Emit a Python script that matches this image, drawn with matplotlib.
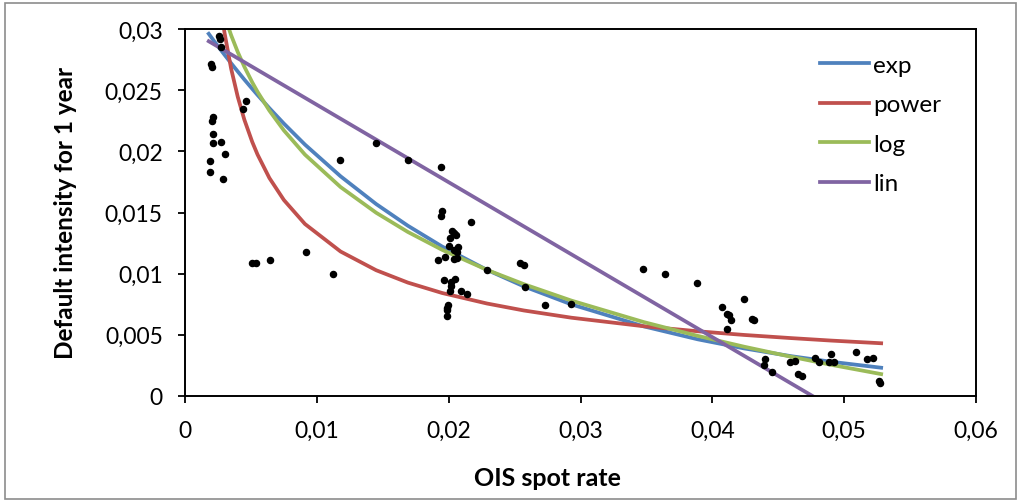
import matplotlib
matplotlib.use("Agg")
import matplotlib.pyplot as plt
from matplotlib.patches import Rectangle

plt.rcParams["font.family"] = ["Lato", "DejaVu Sans"]

# observed points: OIS spot rate vs 1y default intensity
ois_rate = [
    0.00260, 0.00265, 0.00273, 0.00195, 0.00205, 0.00462, 0.00442, 0.00212,
    0.00205, 0.00210, 0.00210, 0.00273, 0.00305, 0.00192, 0.00192, 0.00288,
    0.01449, 0.01689, 0.01177, 0.00510, 0.00538, 0.00644, 0.00914, 0.01121,
    0.01949, 0.01940, 0.01942, 0.02172, 0.02028, 0.02043, 0.02058, 0.02013,
    0.02000, 0.02073, 0.02040, 0.02066, 0.01975, 0.01917, 0.02043, 0.02066,
    0.02290, 0.02538, 0.02568, 0.01967, 0.02048, 0.02020, 0.02020, 0.02010,
    0.02096, 0.02139, 0.01992, 0.01990, 0.01990, 0.01987, 0.02578, 0.02732,
    0.02927, 0.03475, 0.03639, 0.03886, 0.04070, 0.04111, 0.04129, 0.04139,
    0.04114, 0.04240, 0.04298, 0.04318, 0.04402, 0.04389, 0.04452, 0.04586,
    0.04623, 0.04646, 0.04677, 0.04775, 0.04805, 0.04902, 0.04886, 0.04922,
    0.05088, 0.05172, 0.05220, 0.05260, 0.05275,
]
intensity = [
    0.0294, 0.0292, 0.0285, 0.0271, 0.0269, 0.0241, 0.0235, 0.0228,
    0.0225, 0.0214, 0.0207, 0.0208, 0.0198, 0.0192, 0.0183, 0.0177,
    0.0207, 0.0193, 0.0193, 0.0109, 0.0109, 0.0111, 0.0118, 0.0100,
    0.0151, 0.0147, 0.0187, 0.0142, 0.0135, 0.0133, 0.0132, 0.0129,
    0.0123, 0.0122, 0.0119, 0.0118, 0.0114, 0.0111, 0.0112, 0.0113,
    0.0103, 0.0109, 0.0107, 0.0095, 0.0096, 0.0093, 0.0090, 0.0086,
    0.0086, 0.0083, 0.0074, 0.0072, 0.0070, 0.0065, 0.0089, 0.0074,
    0.0075, 0.0104, 0.0100, 0.0092, 0.0073, 0.0067, 0.0066, 0.0062,
    0.0055, 0.0079, 0.0063, 0.0062, 0.0030, 0.0025, 0.0020, 0.0028,
    0.0029, 0.0018, 0.0016, 0.0031, 0.0028, 0.0034, 0.0028, 0.00275,
    0.0036, 0.0030, 0.0031, 0.0012, 0.0011,
]

# trend curves
curve_x = [0.0018, 0.0022, 0.0026, 0.0030, 0.0035, 0.0040, 0.0045, 0.0051,
           0.0055, 0.0064, 0.0075, 0.0091, 0.0118, 0.0145, 0.0169, 0.0195,
           0.0229, 0.0257, 0.0293, 0.0348, 0.0389, 0.0424, 0.0460, 0.0490,
           0.0528]
exp_y = [0.02961, 0.02902, 0.02845, 0.02789, 0.02720, 0.02653, 0.02587, 0.02511,
         0.02461, 0.02353, 0.02227, 0.02055, 0.01796, 0.01569, 0.01392, 0.01222,
         0.01031, 0.00896, 0.00749, 0.00569, 0.00463, 0.00389, 0.00325, 0.00280,
         0.00231]
power_y = [0.04185, 0.03657, 0.03268, 0.02967, 0.02675, 0.02446, 0.02259, 0.02077,
           0.01974, 0.01782, 0.01602, 0.01406, 0.01181, 0.01028, 0.00927, 0.00842,
           0.00756, 0.00699, 0.00640, 0.00570, 0.00529, 0.00499, 0.00473, 0.00453,
           0.00431]
log_y = [0.03627, 0.03422, 0.03252, 0.03106, 0.02949, 0.02812, 0.02692, 0.02564,
         0.02487, 0.02333, 0.02171, 0.01973, 0.01708, 0.01498, 0.01341, 0.01195,
         0.01031, 0.00914, 0.00780, 0.00604, 0.00491, 0.00403, 0.00320, 0.00255,
         0.00179]
lin_x = [0.0018, 0.0528]
lin_y = [0.0290, -0.0033]

x_ticks = [0, 0.01, 0.02, 0.03, 0.04, 0.05, 0.06]
x_labels = ["0", "0,01", "0,02", "0,03", "0,04", "0,05", "0,06"]
y_ticks = [0, 0.005, 0.01, 0.015, 0.02, 0.025, 0.03]
y_labels = ["0", "0,005", "0,01", "0,015", "0,02", "0,025", "0,03"]

fig = plt.figure(figsize=(10.21, 5.02), dpi=100)
ax = fig.add_axes([0.1812, 0.2092, 0.7748, 0.731])

ax.plot(ois_rate, intensity, "o", color="black", ms=4.4, zorder=3)
ax.plot(curve_x, exp_y, color="#4F81BD", lw=2.7, label="exp")
ax.plot(curve_x, power_y, color="#C0504D", lw=2.7, label="power")
ax.plot(curve_x, log_y, color="#9BBB59", lw=2.7, label="log")
ax.plot(lin_x, lin_y, color="#8064A2", lw=2.7, label="lin")

ax.set_xlim(0, 0.06)
ax.set_ylim(0, 0.03)
ax.set_xticks(x_ticks)
ax.set_xticklabels(x_labels)
ax.set_yticks(y_ticks)
ax.set_yticklabels(y_labels)
ax.tick_params(axis="both", direction="out", length=5, width=1.3,
               labelsize=16.5, colors="black")
ax.tick_params(axis="x", pad=12)
ax.tick_params(axis="y", pad=11)
for s in ax.spines.values():
    s.set_linewidth(1.4)
    s.set_color("black")

ax.set_xlabel("OIS spot rate", fontsize=18, fontweight="bold")
ax.set_ylabel("Default intensity for 1 year", fontsize=17.5, fontweight="bold")
ax.xaxis.set_label_coords(0.458, -0.19)
ax.yaxis.set_label_coords(-0.1365, 0.501)

ax.legend(loc="upper left", bbox_to_anchor=(0.775, 0.99), frameon=False,
          fontsize=17.5, handlelength=2.0, handletextpad=0.2, labelspacing=0.76)

# outer chart border
fig.patches.append(Rectangle((0.005, 0.004), 0.99, 0.988, transform=fig.transFigure,
                             fill=False, edgecolor="#8c8c8c", lw=1.2))

fig.savefig("out.png", dpi=100)
